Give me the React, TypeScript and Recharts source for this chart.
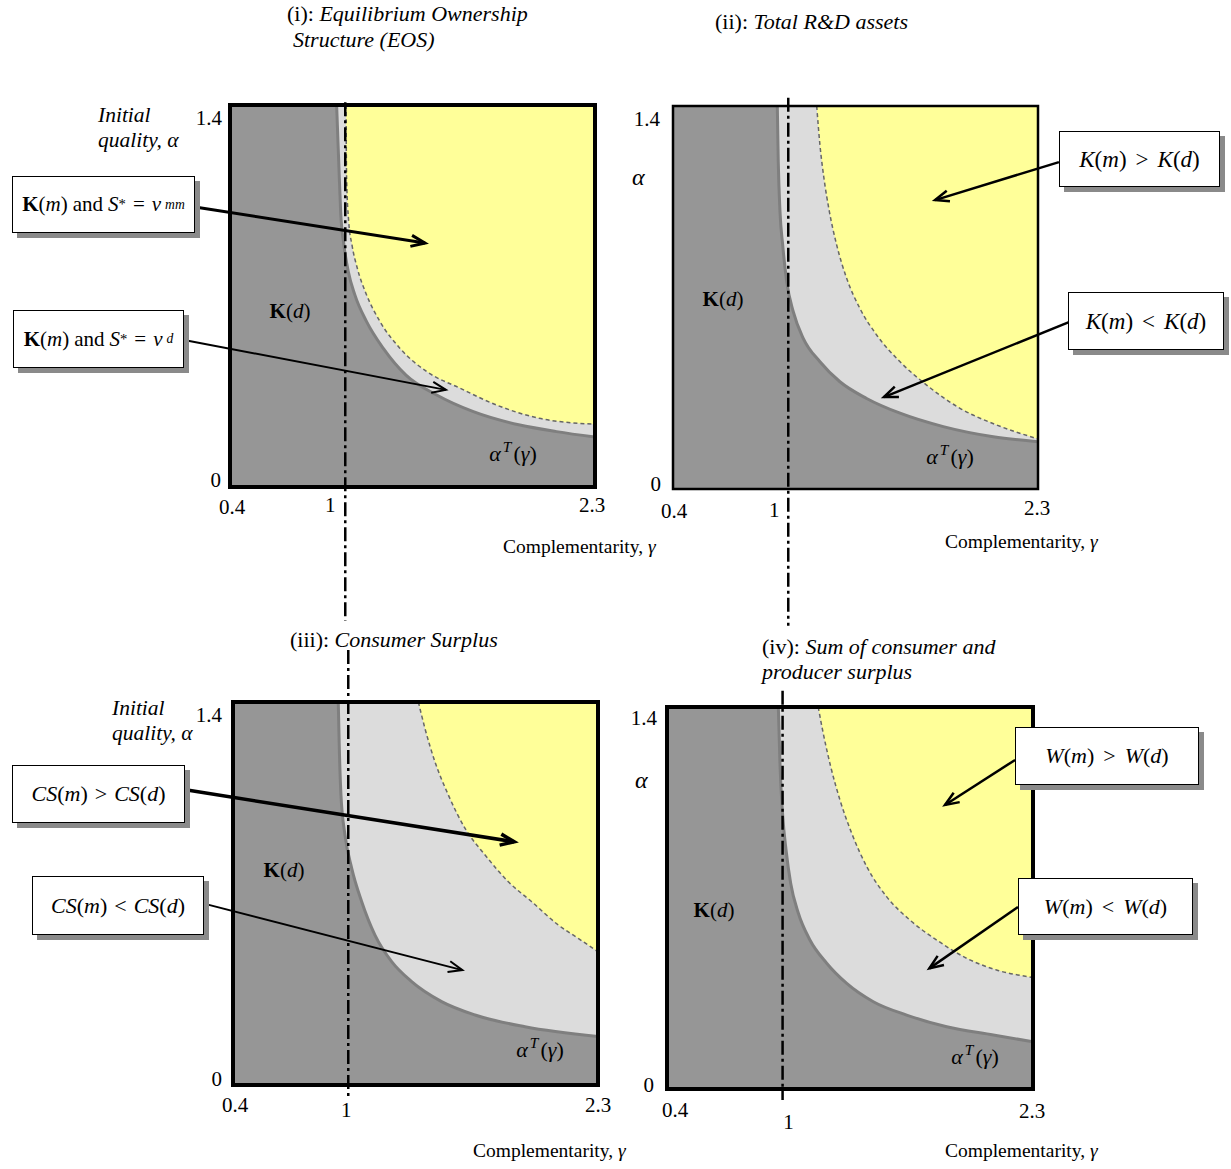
import React from 'react';
import {
  ComposedChart,
  Area,
  XAxis,
  YAxis,
  CartesianGrid,
  ReferenceLine,
  ReferenceArea,
} from 'recharts';

const FONT = '"Liberation Serif", "Times New Roman", serif';
const PAGE_W = 1231;
const PAGE_H = 1169;

const xTicks = [0.4, 1, 2.3];
const yTicks = [0, 1.4];

// [gamma, alpha]
// (i) equilibrium ownership structure
const eosThreshold = [
  [0.955, 1.4], [0.966, 1.192], [0.976, 1.009], [0.993, 0.887], [1.016, 0.789],
  [1.05, 0.704], [1.111, 0.606], [1.198, 0.508], [1.316, 0.41], [1.476, 0.337],
  [1.667, 0.276], [1.909, 0.227], [2.1, 0.203], [2.3, 0.183],
];
const eosMerger = [
  [1.004, 1.4], [1.007, 1.131], [1.018, 0.972], [1.035, 0.887], [1.063, 0.801],
  [1.111, 0.704], [1.181, 0.606], [1.285, 0.508], [1.424, 0.423], [1.598, 0.362],
  [1.789, 0.3], [2.009, 0.252], [2.3, 0.23],
];

// (ii) total R&D assets
const rdThreshold = [
  [0.943, 1.4], [0.948, 1.196], [0.957, 1.014], [0.971, 0.892], [0.992, 0.758],
  [1.026, 0.648], [1.078, 0.551], [1.165, 0.465], [1.269, 0.392], [1.408, 0.331],
  [1.582, 0.277], [1.807, 0.228], [2.067, 0.191], [2.3, 0.173],
];
const rdHigher = [
  [1.148, 1.4], [1.165, 1.257], [1.186, 1.135], [1.214, 1.014], [1.252, 0.892],
  [1.304, 0.77], [1.373, 0.66], [1.46, 0.563], [1.582, 0.465], [1.72, 0.38],
  [1.894, 0.295], [2.085, 0.234], [2.3, 0.183],
];

// (iii) consumer surplus
const csThreshold = [
  [0.948, 1.4], [0.953, 1.243], [0.962, 1.06], [0.983, 0.914], [1.018, 0.792],
  [1.07, 0.67], [1.139, 0.548], [1.226, 0.451], [1.33, 0.378], [1.486, 0.305],
  [1.66, 0.256], [1.92, 0.213], [2.3, 0.177],
];
const csHigher = [
  [1.365, 1.4], [1.399, 1.304], [1.451, 1.182], [1.521, 1.06], [1.608, 0.938],
  [1.712, 0.841], [1.833, 0.743], [1.955, 0.67], [2.093, 0.585], [2.197, 0.536],
  [2.3, 0.487],
];

// (iv) welfare
const wThreshold = [
  [0.978, 1.4], [0.987, 1.181], [1.001, 0.998], [1.018, 0.876], [1.042, 0.754],
  [1.082, 0.644], [1.142, 0.546], [1.229, 0.461], [1.333, 0.387], [1.471, 0.32],
  [1.644, 0.271], [1.852, 0.228], [2.094, 0.198], [2.3, 0.173],
];
const wHigher = [
  [1.185, 1.4], [1.211, 1.304], [1.25, 1.181], [1.298, 1.059], [1.359, 0.937],
  [1.437, 0.815], [1.54, 0.705], [1.661, 0.619], [1.8, 0.546], [1.956, 0.479],
  [2.111, 0.436], [2.3, 0.409],
];

// gamma = 1 divider, [from alpha, to alpha]
const splitTop = [1.41, -0.49];
const splitTopRight = [1.43, -0.5];
const splitBottom = [1.59, -0.04];
const splitBottomRight = [1.46, -0.04];

// annotation arrows: [g0, a0, g1, a1, width]
const arrowsI = [[0.218, 1.026, 1.415, 0.894, 3], [0.161, 0.539, 1.524, 0.356, 2]];
const arrowsII = [[2.409, 1.195, 1.764, 1.056, 2.5], [2.461, 0.61, 1.498, 0.336, 2.5]];
const arrowsIII = [[0.161, 1.078, 1.864, 0.889, 3.5], [0.254, 0.662, 1.594, 0.42, 2]];
const arrowsIV = [[2.207, 1.206, 1.843, 1.041, 2.5], [2.222, 0.667, 1.762, 0.442, 2.5]];

const toPoints = (arr: number[][]) => arr.map(([g, a]) => ({ g, a }));

function Arrow(props: any) {
  const { x1, y1, x2, y2, w } = props;
  const ang = Math.atan2(y2 - y1, x2 - x1);
  const len = 15;
  const spread = 0.38;
  const ax = x2 - len * Math.cos(ang - spread);
  const ay = y2 - len * Math.sin(ang - spread);
  const bx = x2 - len * Math.cos(ang + spread);
  const by = y2 - len * Math.sin(ang + spread);
  return (
    <g>
      <line x1={x1} y1={y1} x2={x2} y2={y2} stroke="#000" strokeWidth={w} />
      <polyline
        points={`${ax},${ay} ${x2},${y2} ${bx},${by}`}
        fill="none"
        stroke="#000"
        strokeWidth={w}
      />
    </g>
  );
}

const makeTick = (offsets: Record<string, number[]>, anchor: 'middle' | 'end') =>
  function Tick(props: any) {
    const { x, y, payload } = props;
    const [dx, dy] = offsets[String(payload.value)] || [0, 0];
    return (
      <text
        x={x + dx}
        y={y + dy}
        textAnchor={anchor}
        dominantBaseline="central"
        fontFamily={FONT}
        fontSize={21}
        fill="#000"
      >
        {payload.value}
      </text>
    );
  };

interface PanelProps {
  box: { l: number; r: number; t: number; b: number };
  lower: number[][];
  upper: number[][];
  frame: number;
  xOff: Record<string, number[]>;
  yOff: Record<string, number[]>;
  split: number[];
  arrows: number[][];
}

function Panel({ box, lower, upper, frame, xOff, yOff, split, arrows }: PanelProps) {
  return (
    <div style={{ position: 'absolute', left: 0, top: 0 }}>
      <ComposedChart
        width={PAGE_W}
        height={PAGE_H}
        margin={{ top: box.t, left: box.l - 40, right: PAGE_W - box.r, bottom: PAGE_H - box.b - 30 }}
      >
        <CartesianGrid horizontal={false} vertical={false} fill="#969696" fillOpacity={1} />
        <XAxis
          type="number"
          dataKey="g"
          domain={[0.4, 2.3]}
          ticks={xTicks}
          interval={0}
          axisLine={false}
          tickLine={false}
          tickSize={0}
          tickMargin={0}
          height={30}
          allowDataOverflow
          tick={makeTick(xOff, 'middle')}
        />
        <YAxis
          type="number"
          domain={[0, 1.4]}
          ticks={yTicks}
          interval={0}
          axisLine={false}
          tickLine={false}
          tickSize={0}
          tickMargin={0}
          width={40}
          allowDataOverflow
          tick={makeTick(yOff, 'end')}
        />
        <Area
          data={toPoints(lower)}
          dataKey="a"
          type="monotone"
          baseValue={1.4}
          fill="#dcdcdc"
          fillOpacity={1}
          stroke="#7f7f7f"
          strokeWidth={3}
          dot={false}
          activeDot={false}
          isAnimationActive={false}
        />
        <Area
          data={toPoints(upper)}
          dataKey="a"
          type="monotone"
          baseValue={1.4}
          fill="#ffff99"
          fillOpacity={1}
          stroke="#666666"
          strokeWidth={1.5}
          strokeDasharray="4 3"
          dot={false}
          activeDot={false}
          isAnimationActive={false}
        />
        <ReferenceArea
          x1={0.4}
          x2={2.3}
          y1={0}
          y2={1.4}
          fill="none"
          fillOpacity={0}
          stroke="#000"
          strokeWidth={frame}
          zIndex={1500}
        />
        <ReferenceLine
          segment={[{ x: 1, y: split[0] }, { x: 1, y: split[1] }]}
          stroke="#000"
          strokeWidth={2.5}
          strokeDasharray="14 4 3 4"
          ifOverflow="visible"
          zIndex={1600}
        />
        {arrows.map((a, i) => (
          <ReferenceLine
            key={i}
            segment={[{ x: a[0], y: a[1] }, { x: a[2], y: a[3] }]}
            ifOverflow="visible"
            zIndex={1700}
            shape={(p: any) => <Arrow {...p} w={a[4]} />}
          />
        ))}
      </ComposedChart>
    </div>
  );
}

function Txt({ x, y, size = 21.5, center = false, children }: any) {
  return (
    <div
      style={{
        position: 'absolute',
        left: x,
        top: y,
        transform: center ? 'translate(-50%, -50%)' : 'translateY(-50%)',
        fontFamily: FONT,
        fontSize: size,
        whiteSpace: 'nowrap',
        lineHeight: 1,
        color: '#000',
      }}
    >
      {children}
    </div>
  );
}

function Box({ x, y, w, h, size = 21, children }: any) {
  return (
    <div
      style={{
        position: 'absolute',
        left: x,
        top: y,
        width: w,
        height: h,
        boxSizing: 'border-box',
        border: '1px solid #000',
        background: '#fff',
        boxShadow: '5px 5px 0 #8a8a8a',
        display: 'flex',
        alignItems: 'center',
        justifyContent: 'center',
        fontFamily: FONT,
        fontSize: size,
        whiteSpace: 'nowrap',
        lineHeight: 1,
      }}
    >
      {children}
    </div>
  );
}

const Op = ({ children, gap = 9 }: any) => <span style={{ margin: `0 ${gap}px` }}>{children}</span>;

const Kd = () => (
  <>
    <b>K</b>(<i>d</i>)
  </>
);
const AlphaT = () => (
  <>
    <i>α</i>
    <sup style={{ fontSize: '0.7em', margin: '0 2px' }}>
      <i>T</i>
    </sup>
    (<i>γ</i>)
  </>
);
const Cmp = () => (
  <>
    Complementarity, <i>γ</i>
  </>
);
const KmS = ({ sub }: any) => (
  <>
    <b>K</b>(<i>m</i>)<span style={{ margin: '0 5px' }}>and</span>
    <i>S</i>
    <sup style={{ fontSize: '0.7em' }}>*</sup>
    <Op gap={7}>=</Op>
    <i>v</i>
    <sub style={{ fontSize: '0.65em', marginLeft: 4 }}>
      <i>{sub}</i>
    </sub>
  </>
);

export default function App() {
  return (
    <div style={{ position: 'absolute', left: 0, top: 0, width: PAGE_W, height: PAGE_H, background: '#fff' }}>
      <Panel
        box={{ l: 230, r: 595, t: 105, b: 487 }}
        lower={eosThreshold}
        upper={eosMerger}
        frame={4}
        xOff={{ '0.4': [2, 20], '1': [-15, 18], '2.3': [-3, 18] }}
        yOff={{ '1.4': [-8, 13], '0': [-9, -7] }}
        split={splitTop}
        arrows={arrowsI}
      />
      <Panel
        box={{ l: 673, r: 1038, t: 106, b: 489 }}
        lower={rdThreshold}
        upper={rdHigher}
        frame={2.5}
        xOff={{ '0.4': [1, 22], '1': [-14, 21], '2.3': [-1, 19] }}
        yOff={{ '1.4': [-13, 13], '0': [-12, -5] }}
        split={splitTopRight}
        arrows={arrowsII}
      />
      <Panel
        box={{ l: 233, r: 598, t: 702, b: 1085 }}
        lower={csThreshold}
        upper={csHigher}
        frame={4}
        xOff={{ '0.4': [2, 20], '1': [-2, 25], '2.3': [0, 20] }}
        yOff={{ '1.4': [-11, 13], '0': [-11, -6] }}
        split={splitBottom}
        arrows={arrowsIII}
      />
      <Panel
        box={{ l: 667, r: 1033, t: 707, b: 1089 }}
        lower={wThreshold}
        upper={wHigher}
        frame={4}
        xOff={{ '0.4': [8, 21], '1': [6, 33], '2.3': [-1, 22] }}
        yOff={{ '1.4': [-10, 11], '0': [-13, -4] }}
        split={splitBottomRight}
        arrows={arrowsIV}
      />

      {/* titles */}
      <Txt x={287} y={14} size={22}>
        (i): <i>Equilibrium Ownership</i>
      </Txt>
      <Txt x={293} y={40} size={22}>
        <i>Structure (EOS)</i>
      </Txt>
      <Txt x={715} y={22} size={22}>
        (ii): <i>Total R&amp;D assets</i>
      </Txt>
      <Txt x={290} y={640} size={22}>
        (iii): <i>Consumer Surplus</i>
      </Txt>
      <Txt x={762} y={647} size={22}>
        (iv): <i>Sum of consumer and</i>
      </Txt>
      <Txt x={762} y={672} size={22}>
        <i>producer surplus</i>
      </Txt>

      {/* axis titles */}
      <Txt x={98} y={116}>
        <i>Initial</i>
      </Txt>
      <Txt x={98} y={141}>
        <i>quality, α</i>
      </Txt>
      <Txt x={112} y={709}>
        <i>Initial</i>
      </Txt>
      <Txt x={112} y={734}>
        <i>quality, α</i>
      </Txt>
      <Txt x={632} y={177} size={24}>
        <i>α</i>
      </Txt>
      <Txt x={635} y={780} size={24}>
        <i>α</i>
      </Txt>
      <Txt x={503} y={547} size={19.5}>
        <Cmp />
      </Txt>
      <Txt x={945} y={542} size={19.5}>
        <Cmp />
      </Txt>
      <Txt x={473} y={1151} size={19.5}>
        <Cmp />
      </Txt>
      <Txt x={945} y={1151} size={19.5}>
        <Cmp />
      </Txt>

      {/* region labels */}
      <Txt x={290} y={311} size={21} center>
        <Kd />
      </Txt>
      <Txt x={723} y={299} size={21} center>
        <Kd />
      </Txt>
      <Txt x={284} y={870} size={21} center>
        <Kd />
      </Txt>
      <Txt x={714} y={910} size={21} center>
        <Kd />
      </Txt>
      <Txt x={513} y={452} size={22} center>
        <AlphaT />
      </Txt>
      <Txt x={950} y={455} size={22} center>
        <AlphaT />
      </Txt>
      <Txt x={540} y={1048} size={22} center>
        <AlphaT />
      </Txt>
      <Txt x={975} y={1055} size={22} center>
        <AlphaT />
      </Txt>

      {/* boxes */}
      <Box x={12} y={176} w={183} h={57} size={21}>
        <KmS sub="mm" />
      </Box>
      <Box x={13} y={310} w={171} h={58} size={21}>
        <KmS sub="d" />
      </Box>
      <Box x={1059} y={131} w={161} h={56} size={23}>
        <i>K</i>(<i>m</i>)<Op>&gt;</Op><i>K</i>(<i>d</i>)
      </Box>
      <Box x={1068} y={292} w={156} h={58} size={23}>
        <i>K</i>(<i>m</i>)<Op>&lt;</Op><i>K</i>(<i>d</i>)
      </Box>
      <Box x={12} y={765} w={173} h={58} size={22}>
        <i>CS</i>(<i>m</i>)<Op gap={7}>&gt;</Op><i>CS</i>(<i>d</i>)
      </Box>
      <Box x={32} y={876} w={172} h={59} size={22}>
        <i>CS</i>(<i>m</i>)<Op gap={7}>&lt;</Op><i>CS</i>(<i>d</i>)
      </Box>
      <Box x={1015} y={727} w={184} h={58} size={22}>
        <i>W</i>(<i>m</i>)<Op>&gt;</Op><i>W</i>(<i>d</i>)
      </Box>
      <Box x={1018} y={878} w={175} h={57} size={22}>
        <i>W</i>(<i>m</i>)<Op>&lt;</Op><i>W</i>(<i>d</i>)
      </Box>
    </div>
  );
}
